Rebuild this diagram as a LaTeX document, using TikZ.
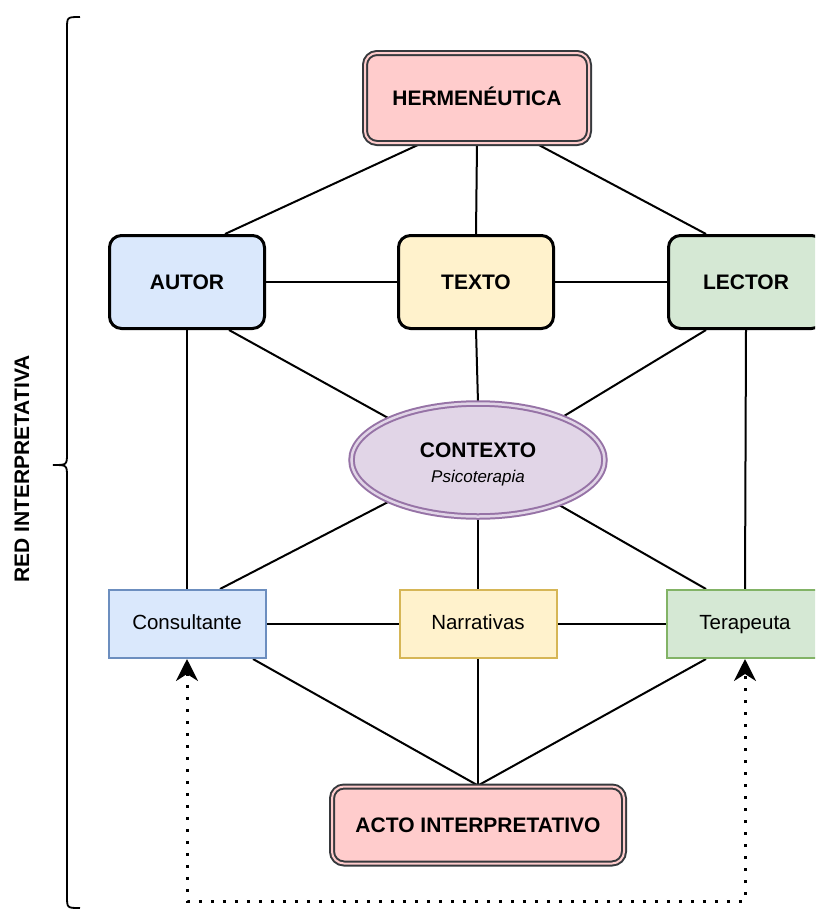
\documentclass[tikz,border=0pt]{standalone}
\usepackage{fontspec}
\setmainfont{Liberation Sans}
\usetikzlibrary{shapes.geometric,arrows.meta,calc,backgrounds}
\definecolor{pinkf}{HTML}{FFCCCC}
\definecolor{dgray}{HTML}{36393D}
\definecolor{bluef}{HTML}{DAE8FC}
\definecolor{blued}{HTML}{6C8EBF}
\definecolor{yelf}{HTML}{FFF2CC}
\definecolor{yeld}{HTML}{D6B656}
\definecolor{greenf}{HTML}{D5E8D4}
\definecolor{greend}{HTML}{82B366}
\definecolor{purpf}{HTML}{E1D5E7}
\definecolor{purpd}{HTML}{9673A6}
\tikzset{
  conn/.style={line width=2pt, draw=black},
  bigbox/.style={rounded corners=12pt, line width=3pt, draw=black, minimum width=155pt, minimum height=93pt, inner sep=0pt, text height=15pt, text depth=0pt, font=\fontsize{21}{25}\selectfont\bfseries},
  smallbox/.style={line width=2pt, minimum width=157pt, minimum height=68pt, inner sep=0pt, text height=15pt, text depth=4pt, font=\fontsize{20.5}{25}\selectfont},
  dblbox/.style={rounded corners=12pt, draw=dgray, line width=2pt, double=pinkf, double distance=2pt, fill=pinkf, inner sep=0pt, text height=15pt, text depth=0pt, font=\fontsize{21}{25}\selectfont\bfseries},
  dotline/.style={line width=3pt, dash pattern=on 3pt off 9pt, arrows={Stealth[length=22pt,width=22pt,inset=7pt]-Stealth[length=22pt,width=22pt,inset=7pt]}}
}
\begin{document}
\begin{tikzpicture}[x=1pt,y=-1pt]
\useasboundingbox (0,0) rectangle (815,911);
\clip (0,0) rectangle (815,911);

\node[dblbox, minimum width=224pt, minimum height=90pt] (herm) at (477,98) {HERMENÉUTICA};
\node[bigbox, fill=bluef] (autor) at (187,282) {AUTOR};
\node[bigbox, fill=yelf] (texto) at (476,282) {TEXTO};
\node[bigbox, fill=greenf] (lector) at (746,282) {LECTOR};
\node[ellipse, draw=purpd, line width=2pt, double=purpf, double distance=2.5pt, fill=purpf, minimum width=253pt, minimum height=113pt, inner sep=0pt, align=center, font=\fontsize{21}{25}\selectfont] (ctx) at (478,460)
  {\rule{0pt}{23pt}{\bfseries CONTEXTO}\\{\fontsize{17}{20}\selectfont\itshape Psicoterapia}};
\node[smallbox, draw=blued, fill=bluef] (cons) at (187,624) {Consultante};
\node[smallbox, draw=yeld, fill=yelf] (narr) at (478,624) {Narrativas};
\node[smallbox, draw=greend, fill=greenf] (ter) at (745,624) {Terapeuta};
\node[dblbox, minimum width=292pt, minimum height=77pt] (acto) at (478,825) {ACTO INTERPRETATIVO};

\node[rotate=90, font=\fontsize{21}{25}\selectfont\bfseries] (lbl) at (22,469) {RED INTERPRETATIVA};

\begin{scope}[on background layer]
\draw[conn] ($(herm.south)+(-57,0)$) -- ($(autor.north)+(38,0)$);
\draw[conn] (herm.south) -- (texto.north);
\draw[conn] ($(herm.south)+(60,0)$) -- ($(lector.north)+(-40,0)$);
\draw[conn] (autor.east) -- (texto.west);
\draw[conn] (texto.east) -- (lector.west);
\draw[conn] ($(autor.south)+(42,0)$) -- (ctx.155.7);
\draw[conn] (texto.south) -- (ctx.north);
\draw[conn] ($(lector.south)+(-40,0)$) -- (ctx.27);
\draw[conn] (autor.south) -- (cons.north);
\draw[conn] (lector.south) -- (ter.north);
\draw[conn] (ctx.205.8) -- ($(cons.north)+(33,0)$);
\draw[conn] (ctx.south) -- (narr.north);
\draw[conn] (ctx.-29.9) -- ($(ter.north)+(-39,0)$);
\draw[conn] (cons.east) -- (narr.west);
\draw[conn] (narr.east) -- (ter.west);
\draw[conn] ($(cons.south)+(66,0)$) -- (acto.north);
\draw[conn] (narr.south) -- (acto.north);
\draw[conn] ($(ter.south)+(-39,0)$) -- (acto.north);
\end{scope}

\draw[dotline] (cons.south) -- ++(0,242) -| (ter.south);

\draw[line width=1.8pt] (80,17) .. controls (67,17) .. (67,29) -- (67,453) .. controls (67,465) .. (53,465) .. controls (67,465) .. (67,477) -- (67,896) .. controls (67,908) .. (80,908);
\end{tikzpicture}
\end{document}
